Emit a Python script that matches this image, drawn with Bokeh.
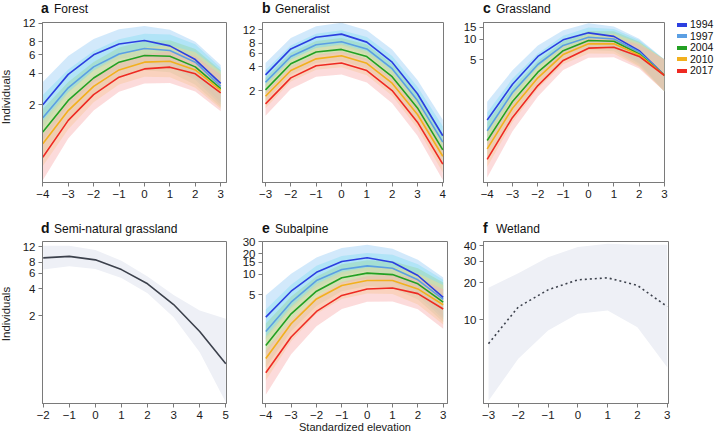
from bokeh.plotting import figure
from bokeh.layouts import row, column
from bokeh.models import Range1d, FixedTicker, Div
from bokeh.embed import file_html
from bokeh.resources import INLINE

FONT = "Liberation Sans"
CSS_FONT = "'Liberation Sans',Arial,sans-serif"
GRAY = "#7a7a7a"
TICK_FONT = "11.5px"

years = ["1994", "1997", "2004", "2010", "2017"]
line_colors = ["#2C3FE0", "#5B9FE3", "#23A023", "#F2B01E", "#EE2A22"]
band_colors = ["#9ccff7", "#7fdcf2", "#8fd48f", "#f9d98a", "#f9b0b0"]
band_alphas = [0.45, 0.4, 0.35, 0.45, 0.45]

# ---------------- a Forest ----------------
x_forest = [-4, -3, -2, -1, 0, 1, 2, 3]
forest_mean = {
    "1994": [2.0, 3.9, 6.0, 7.6, 8.2, 7.3, 5.4, 3.2],
    "1997": [1.5, 2.9, 4.6, 6.1, 6.9, 6.6, 5.1, 3.0],
    "2004": [1.1, 2.2, 3.6, 5.1, 5.9, 5.8, 4.6, 2.85],
    "2010": [0.85, 1.76, 3.0, 4.3, 5.1, 5.2, 4.3, 2.75],
    "2017": [0.63, 1.42, 2.5, 3.67, 4.4, 4.57, 3.95, 2.6],
}
forest_hi = {
    "1994": [3.3, 5.85, 8.5, 10.5, 11.3, 10.4, 8.0, 4.8],
    "1997": [2.48, 4.35, 6.53, 8.42, 9.52, 9.37, 7.55, 4.5],
    "2004": [1.82, 3.3, 5.11, 7.04, 8.14, 8.24, 6.81, 4.28],
    "2010": [1.4, 2.64, 4.26, 5.93, 7.04, 7.38, 6.36, 4.13],
    "2017": [1.04, 2.13, 3.55, 5.06, 6.07, 6.49, 5.85, 3.9],
}
forest_lo = {
    "1994": [1.21, 2.6, 4.23, 5.5, 5.94, 5.14, 3.65, 2.13],
    "1997": [0.91, 1.93, 3.24, 4.42, 5.0, 4.65, 3.45, 2.0],
    "2004": [0.67, 1.47, 2.54, 3.7, 4.28, 4.08, 3.11, 1.9],
    "2010": [0.52, 1.17, 2.11, 3.12, 3.7, 3.66, 2.91, 1.83],
    "2017": [0.38, 0.95, 1.76, 2.66, 3.19, 3.22, 2.67, 1.73],
}

# ---------------- b Generalist ----------------
x_generalist = [-3, -2, -1, 0, 1, 2, 3, 4]
generalist_mean = {
    "1994": [3.17, 6.8, 9.6, 10.5, 8.3, 4.6, 1.82, 0.53],
    "1997": [2.55, 5.44, 7.7, 8.4, 6.8, 3.8, 1.49, 0.44],
    "2004": [2.04, 4.4, 6.2, 6.7, 5.44, 3.0, 1.2, 0.35],
    "2010": [1.69, 3.6, 5.08, 5.55, 4.46, 2.48, 0.99, 0.29],
    "2017": [1.35, 2.9, 4.14, 4.5, 3.6, 2.0, 0.79, 0.23],
}
generalist_hi = {
    "1994": [4.5, 9.38, 13.25, 14.7, 11.8, 6.67, 2.73, 0.85],
    "1997": [3.62, 7.5, 10.6, 11.8, 9.66, 5.51, 2.24, 0.7],
    "2004": [2.9, 6.07, 8.56, 9.38, 7.72, 4.35, 1.8, 0.56],
    "2010": [2.4, 4.97, 7.01, 7.77, 6.33, 3.6, 1.49, 0.46],
    "2017": [1.92, 4.0, 5.71, 6.3, 5.11, 2.9, 1.19, 0.37],
}
generalist_lo = {
    "1994": [2.23, 4.93, 6.96, 7.5, 5.85, 3.17, 1.21, 0.33],
    "1997": [1.8, 3.94, 5.58, 6.0, 4.79, 2.62, 0.99, 0.275],
    "2004": [1.44, 3.19, 4.49, 4.79, 3.83, 2.07, 0.8, 0.22],
    "2010": [1.19, 2.61, 3.68, 3.96, 3.14, 1.71, 0.66, 0.18],
    "2017": [0.95, 2.1, 3.0, 3.21, 2.54, 1.38, 0.53, 0.144],
}

# ---------------- c Grassland ----------------
x_grassland = [-4, -3, -2, -1, 0, 1, 2, 3]
grassland_mean = {
    "1994": [0.66, 2.2, 5.6, 9.8, 12.4, 11.0, 6.8, 2.95],
    "1997": [0.46, 1.66, 4.27, 8.1, 10.7, 10.1, 6.5, 2.95],
    "2004": [0.33, 1.23, 3.3, 6.8, 9.6, 9.35, 6.1, 2.95],
    "2010": [0.25, 0.98, 2.73, 5.96, 8.56, 8.56, 5.9, 2.95],
    "2017": [0.175, 0.72, 2.1, 4.9, 7.4, 7.63, 5.6, 2.95],
}
grassland_hi = {
    "1994": [1.22, 3.52, 8.12, 13.5, 17.1, 15.4, 10.2, 5.07],
    "1997": [0.85, 2.66, 6.19, 11.2, 14.8, 14.1, 9.75, 5.07],
    "2004": [0.61, 1.97, 4.79, 9.38, 13.2, 13.1, 9.15, 5.07],
    "2010": [0.46, 1.57, 3.96, 8.22, 11.8, 12.0, 8.85, 5.07],
    "2017": [0.324, 1.15, 3.05, 6.76, 10.2, 10.7, 8.4, 5.07],
}
grassland_lo = {
    "1994": [0.357, 1.375, 3.86, 7.1, 8.99, 7.86, 4.53, 1.72],
    "1997": [0.249, 1.04, 2.94, 5.87, 7.75, 7.21, 4.33, 1.72],
    "2004": [0.178, 0.77, 2.28, 4.93, 6.96, 6.68, 4.07, 1.72],
    "2010": [0.135, 0.61, 1.88, 4.32, 6.2, 6.11, 3.93, 1.72],
    "2017": [0.095, 0.45, 1.45, 3.55, 5.36, 5.45, 3.73, 1.72],
}

# ---------------- d Semi-natural grassland ----------------
x_seminatural = [-2, -1, 0, 1, 2, 3, 4, 5]
seminatural_mean = [8.95, 9.3, 8.5, 6.6, 4.56, 2.66, 1.32, 0.57]
seminatural_hi = [12.3, 12.3, 11.0, 8.3, 5.5, 3.4, 2.28, 1.84]
seminatural_lo = [6.6, 7.2, 6.7, 5.3, 3.57, 1.91, 0.77, 0.21]

# ---------------- e Subalpine ----------------
x_subalpine = [-4, -3, -2, -1, 0, 1, 2, 3]
subalpine_mean = {
    "1994": [2.35, 5.65, 10.7, 15.4, 17.5, 15.0, 9.6, 4.6],
    "1997": [1.45, 3.9, 8.1, 11.75, 13.3, 12.3, 8.3, 4.27],
    "2004": [0.9, 2.63, 5.65, 8.9, 10.4, 9.9, 7.25, 3.9],
    "2010": [0.58, 1.88, 4.35, 6.85, 8.1, 8.1, 6.1, 3.57],
    "2017": [0.36, 1.2, 2.85, 4.9, 6.1, 6.3, 5.2, 3.1],
}
subalpine_hi = {
    "1994": [4.94, 10.2, 17.7, 24.3, 27.1, 23.7, 16.3, 8.97],
    "1997": [3.05, 7.02, 13.4, 18.6, 20.6, 19.4, 14.1, 8.33],
    "2004": [1.89, 4.73, 9.32, 14.1, 16.1, 15.6, 12.3, 7.6],
    "2010": [1.22, 3.38, 7.18, 10.8, 12.6, 12.8, 10.4, 6.96],
    "2017": [0.76, 2.16, 4.7, 7.74, 9.46, 9.95, 8.84, 6.05],
}
subalpine_lo = {
    "1994": [1.12, 3.14, 6.48, 9.75, 11.3, 9.49, 5.65, 2.36],
    "1997": [0.69, 2.17, 4.91, 7.44, 8.58, 7.78, 4.88, 2.19],
    "2004": [0.43, 1.46, 3.42, 5.63, 6.71, 6.27, 4.26, 2.0],
    "2010": [0.276, 1.04, 2.64, 4.34, 5.23, 5.13, 3.59, 1.83],
    "2017": [0.171, 0.67, 1.73, 3.1, 3.94, 3.99, 3.06, 1.59],
}

# ---------------- f Wetland ----------------
x_wetland = [-3, -2, -1, 0, 1, 2, 3]
wetland_mean = [6.4, 12.7, 17.5, 21.1, 21.9, 19.0, 12.8]
wetland_hi = [18.2, 23.9, 32.2, 38.9, 41.4, 40.6, 40.6]
wetland_lo = [2.2, 4.82, 8.2, 11.2, 11.9, 8.7, 4.12]

# tick values
ticks_x_a = [-4, -3, -2, -1, 0, 1, 2, 3]
ticks_x_b = [-3, -2, -1, 0, 1, 2, 3, 4]
ticks_x_d = [-2, -1, 0, 1, 2, 3, 4, 5]
ticks_x_f = [-3, -2, -1, 0, 1, 2, 3]
ticks_y_a = [2, 4, 6, 8, 12]
ticks_y_c = [5, 10, 15]
ticks_y_e = [5, 10, 15, 20, 30]
ticks_y_f = [10, 20, 30, 40]

panel_titles_top = [(41, "a", "Forest"), (262, "b", "Generalist"), (483, "c", "Grassland")]
panel_titles_bottom = [(41, "d", "Semi-natural grassland"), (262, "e", "Subalpine"),
                       (483, "f", "Wetland")]
y_title = "Individuals"
x_title = "Standardized elevation"


def lab(v):
    return ("\u2212%g" % abs(v)) if v < 0 else "%g" % v


def make_fig(width, height, xr, yr, xt, yt, borders):
    l, r, t, b = borders
    p = figure(width=width, height=height, x_range=Range1d(*xr), y_range=Range1d(*yr),
               y_axis_type="log", output_backend="svg", toolbar_location=None,
               min_border_left=l, min_border_right=r, min_border_top=t, min_border_bottom=b)
    p.xgrid.visible = False
    p.ygrid.visible = False
    p.outline_line_color = GRAY
    p.outline_line_width = 1
    p.background_fill_color = "white"
    p.border_fill_color = "white"
    for ax, ticks in ((p.xaxis[0], xt), (p.yaxis[0], yt)):
        ax.ticker = FixedTicker(ticks=ticks, minor_ticks=[])
        ax.major_label_overrides = {v: lab(v) for v in ticks}
        ax.axis_line_color = GRAY
        ax.major_tick_line_color = GRAY
        ax.minor_tick_line_color = None
        ax.major_tick_in = 0
        ax.major_tick_out = 4
        ax.major_label_standoff = 3
        ax.major_label_text_font = FONT
        ax.major_label_text_font_size = TICK_FONT
        ax.major_label_text_color = "#1a1a1a"
        ax.axis_label_text_font = FONT
        ax.axis_label_text_font_size = "11px"
        ax.axis_label_text_font_style = "normal"
        ax.axis_label_text_color = "#1a1a1a"
    p.yaxis[0].major_label_orientation = "horizontal"
    return p


def add_years(p, xs, mean, lo, hi):
    for i, yname in enumerate(years):
        p.varea(x=xs, y1=lo[yname], y2=hi[yname], fill_color=band_colors[i],
                fill_alpha=band_alphas[i])
    for i, yname in enumerate(years):
        p.line(x=xs, y=mean[yname], line_color=line_colors[i], line_width=1.6)


def titles_div(entries, height, top):
    parts = []
    for left, letter, name in entries:
        parts.append(
            '<span style="position:absolute;left:%dpx;top:%dpx;line-height:14px;'
            'white-space:nowrap;color:#111111">'
            '<b style="display:inline-block;width:13px;font-size:14px">%s</b>'
            '<span style="font-size:12px">%s</span></span>' % (left, top, letter, name))
    html = ('<div style="position:relative;width:714px;height:%dpx;font-family:%s">%s</div>'
            % (height, CSS_FONT, "".join(parts)))
    return Div(text=html, width=714, height=height, margin=0)


def ylabel_div(width, height, center_y):
    html = ('<div style="position:relative;width:%dpx;height:%dpx;font-family:%s">'
            '<span style="position:absolute;left:%gpx;top:%dpx;white-space:nowrap;'
            'font-size:11.5px;line-height:10px;color:#1a1a1a;'
            'transform:translate(-50%%,-50%%) rotate(-90deg)">%s</span></div>'
            % (width, height, CSS_FONT, width / 2.0, center_y, y_title))
    return Div(text=html, width=width, height=height, margin=0)


def legend_div(width, height):
    rows = []
    for yname, col in zip(years, line_colors):
        rows.append(
            '<div style="height:11.5px;display:flex;align-items:center;white-space:nowrap">'
            '<span style="display:inline-block;width:10px;height:4px;background:%s;'
            'margin-right:3px"></span>'
            '<span style="font-size:10.5px;line-height:11.5px">%s</span></div>' % (col, yname))
    html = ('<div style="padding-top:5px;padding-left:5px;color:#111111;font-family:%s">%s</div>'
            % (CSS_FONT, "".join(rows)))
    return Div(text=html, width=width, height=height, margin=0)


# top row (figures 198 px tall, frame 22..182 on the page)
pa = make_fig(221, 198, (-4.012, 3.228), (0.362, 12.2), ticks_x_a, ticks_y_a, (30, 7, 8, 30))
add_years(pa, x_forest, forest_mean, forest_lo, forest_hi)

pb = make_fig(222, 198, (-3.118, 4.028), (0.134, 14.78), ticks_x_b, ticks_y_a, (29, 12, 8, 30))
add_years(pb, x_generalist, generalist_mean, generalist_lo, generalist_hi)

pc = make_fig(217, 198, (-4.146, 3.0), (0.0804, 17.56), ticks_x_a, ticks_y_c, (28, 8, 8, 30))
add_years(pc, x_grassland, grassland_mean, grassland_lo, grassland_hi)

# bottom row (figures 202 px tall, frame 241..403 on the page)
pd_ = make_fig(221, 202, (-2.027, 5.027), (0.203, 13.7), ticks_x_d, ticks_y_a, (30, 7, 5, 35))
pd_.varea(x=x_seminatural, y1=seminatural_lo, y2=seminatural_hi, fill_color="#eef0f6")
pd_.line(x=x_seminatural, y=seminatural_mean, line_color="#3c414c", line_width=1.6)

pe = make_fig(222, 202, (-4.13, 3.17), (0.127, 30.3), ticks_x_a, ticks_y_e, (29, 8, 5, 35))
add_years(pe, x_subalpine, subalpine_mean, subalpine_lo, subalpine_hi)
pe.xaxis[0].axis_label = x_title
pe.xaxis[0].axis_label_standoff = -1

pf = make_fig(259, 202, (-3.168, 3.044), (2.09, 43.2), ticks_x_f, ticks_y_f, (28, 46, 5, 35))
pf.varea(x=x_wetland, y1=wetland_lo, y2=wetland_hi, fill_color="#eef0f6")
pf.line(x=x_wetland, y=wetland_mean, line_color="#3c414c", line_width=1.6, line_dash="2 3")

root = column(
    titles_div(panel_titles_top, 14, 1),
    row(ylabel_div(12, 198, 83), pa, pb, pc, legend_div(42, 198)),
    titles_div(panel_titles_bottom, 24, 9),
    row(ylabel_div(12, 202, 78), pd_, pe, pf),
)

open("out.html", "w").write(file_html(root, INLINE))
